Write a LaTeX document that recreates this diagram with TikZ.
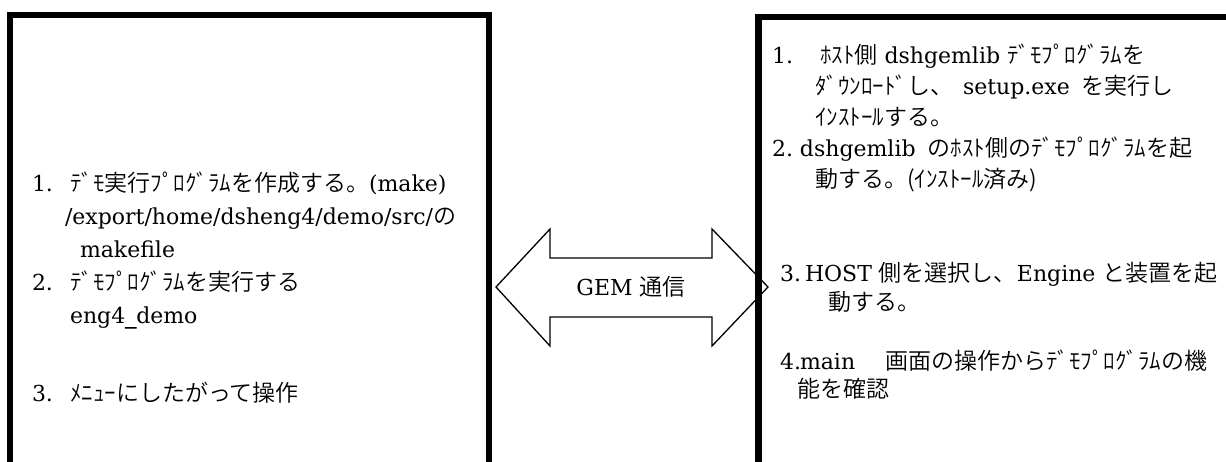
\documentclass[tikz,border=0pt]{standalone}
\usepackage{fontspec}
\setmainfont{DejaVu Serif}
\IfFontExistsTF{Noto Sans CJK JP DemiLight}
  {\newfontfamily\jpfont{Noto Sans CJK JP DemiLight}}
  {\IfFontExistsTF{Noto Sans CJK JP Light}
     {\newfontfamily\jpfont{Noto Sans CJK JP Light}}
     {\newfontfamily\jpfont{Noto Sans CJK JP}}}
\newcommand{\jp}[1]{{\jpfont\fontsize{23}{28}\selectfont #1}}
\newcommand{\itemno}[2]{\makebox[#2][l]{#1}}
\newcommand{\uscore}{{\addfontfeature{FakeBold=3}\_}}
\begin{document}
\begin{tikzpicture}[x=1pt,y=-1pt,
  box/.style={draw=black, line width=6.5pt, line join=miter},
  arr/.style={draw=black, line width=1.3pt, fill=white, line join=miter},
  txt/.style={anchor=base west, inner sep=0pt, outer sep=0pt, font=\fontsize{22}{26}\selectfont},
  lbl/.style={anchor=center, inner sep=0pt, font=\fontsize{22}{26}\selectfont}]
\useasboundingbox (0,0) rectangle (1226,461);
\clip (0,0) rectangle (1226,461);
\fill[white] (0,0) rectangle (1226,461);

% double arrow
\draw[arr] (496,287) -- (550,229) -- (550,258) -- (712,258) -- (712,229) -- (768,287)
  -- (712,346) -- (712,317) -- (550,317) -- (550,346) -- cycle;
\node[lbl] (gem) at (631,287) {GEM \jp{通信}};

% boxes
\draw[box] (10,15) rectangle (489,500);
\draw[box] (758.5,17) rectangle (1260,500);

% left box text
\node[txt] (l1) at (32,191) {\itemno{1.}{38pt}\jp{ﾃﾞﾓ実行ﾌﾟﾛｸﾞﾗﾑを作成する。}(make)};
\node[txt] (l2) at (65,224) {/export/home/dsheng4/demo/src/\jp{の}};
\node[txt] (l3) at (80,257) {makefile};
\node[txt] (l4) at (32,290) {\itemno{2.}{38pt}\jp{ﾃﾞﾓﾌﾟﾛｸﾞﾗﾑを実行する}};
\node[txt] (l5) at (70,323) {eng4\uscore demo};
\node[txt] (l6) at (32,401) {\itemno{3.}{38pt}\jp{ﾒﾆｭｰにしたがって操作}};

% right box text
\node[txt] (r1) at (772,63) {\itemno{1.}{48pt}\jp{ﾎｽﾄ側} dshgemlib \jp{ﾃﾞﾓﾌﾟﾛｸﾞﾗﾑを}};
\node[txt] (r2) at (815,94) {\jp{ﾀﾞｳﾝﾛｰﾄﾞし、}\hspace{10pt}setup.exe\hspace{12pt}\jp{を実行し}};
\node[txt] (r3) at (815,125) {\jp{ｲﾝｽﾄｰﾙする。}};
\node[txt] (r4) at (772,156) {\itemno{2.}{28pt}dshgemlib\hspace{12pt}\jp{のﾎｽﾄ側のﾃﾞﾓﾌﾟﾛｸﾞﾗﾑを起}};
\node[txt] (r5) at (815,187) {\jp{動する。(ｲﾝｽﾄｰﾙ済み)}};
\node[txt] (r6) at (780,281) {\itemno{3.}{25pt}HOST \jp{側を選択し、}Engine \jp{と装置を起}};
\node[txt] (r7) at (828,310) {\jp{動する。}};
\node[txt] (r8) at (780,369) {\itemno{4.}{20pt}main\hspace{30pt}\jp{画面の操作からﾃﾞﾓﾌﾟﾛｸﾞﾗﾑの機}};
\node[txt] (r9) at (797,397) {\jp{能を確認}};
\end{tikzpicture}
\end{document}
